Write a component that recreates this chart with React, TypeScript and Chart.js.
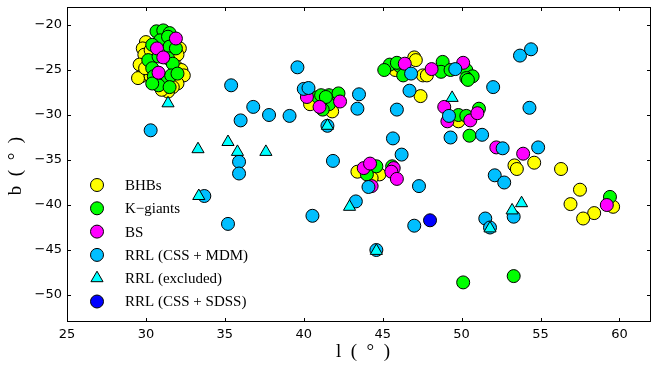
import React, { useEffect, useRef } from "react";
import { Chart, registerables } from "chart.js";

Chart.register(...registerables);

// ---- axes ----
const X_TICKS = [25, 30, 35, 40, 45, 50, 55, 60];
const Y_TICKS = [-50, -45, -40, -35, -30, -25, -20];
const X_MIN = 25;
const X_MAX = 62;
const Y_MIN = -53;
const Y_MAX = -18;
const X_TITLE = "l  (  °  )";
const Y_TITLE = "b  (  °  )";

// ---- series (l, b) ----
const BHB: [number, number][] = [
  [30.0, -21.9], [29.8, -22.6], [29.9, -23.3], [29.6, -24.4], [29.7, -25.7], [29.5, -25.9],
  [30.3, -25.7], [32.15, -22.6], [32.0, -23.3], [31.9, -24.6], [32.25, -25.0], [32.4, -25.6],
  [32.0, -26.5], [31.7, -26.9], [31.4, -27.4], [29.95, -24.8], [31.0, -27.2], [30.3, -22.8],
  [40.4, -28.8], [41.8, -29.6],
  [47.0, -23.6], [47.1, -23.9], [47.55, -25.6], [47.8, -25.6], [45.8, -25.0], [47.4, -27.9],
  [49.8, -30.7],
  [43.4, -36.3], [44.8, -36.6], [44.3, -37.0],
  [53.35, -35.6], [53.5, -36.0], [54.6, -35.3], [56.3, -36.0], [57.5, -38.3], [56.9, -39.9],
  [59.6, -40.2], [58.4, -40.9], [57.7, -41.5],
];

const KGIANTS: [number, number][] = [
  [30.67, -20.7], [31.1, -20.6], [31.5, -20.9], [30.9, -21.7], [31.4, -21.3], [30.4, -22.2],
  [31.5, -22.4], [31.9, -22.6], [30.15, -23.9], [30.8, -23.5], [31.4, -23.7], [31.7, -24.3],
  [30.4, -24.8], [30.5, -25.7], [31.2, -26.1], [31.6, -25.6], [30.8, -26.7], [30.4, -26.5],
  [31.5, -26.9], [32.0, -25.4],
  [40.9, -28.0], [41.1, -27.8], [41.6, -27.8], [42.2, -27.6], [41.6, -28.8], [41.2, -29.4], [41.4, -28.0],
  [45.45, -24.4], [45.1, -25.0], [46.1, -24.6], [46.3, -25.6], [45.9, -24.2],
  [48.8, -24.1], [48.7, -25.2], [49.3, -25.0],
  [50.3, -25.0], [50.7, -25.7], [50.3, -25.9], [50.4, -26.1],
  [49.8, -30.0], [50.3, -30.1], [51.1, -29.3],
  [44.6, -35.7], [44.0, -36.6], [45.6, -35.7], [50.5, -32.3],
  [59.4, -39.1], [53.3, -47.9], [50.1, -48.6],
];

const BS: [number, number][] = [
  [31.9, -21.5], [30.7, -22.6], [31.1, -23.6], [30.8, -25.3],
  [40.2, -28.0], [41.0, -29.1], [42.3, -28.5],
  [46.4, -24.3], [48.1, -24.9], [50.1, -24.2],
  [48.9, -29.1], [49.1, -30.7], [50.55, -30.6], [51.0, -29.8],
  [43.8, -35.9], [44.2, -35.4], [44.3, -37.9], [45.7, -35.9], [45.55, -36.3], [45.9, -37.1],
  [52.2, -33.6], [53.9, -34.3], [59.2, -40.0],
];

const RRL_MDM: [number, number][] = [
  [30.3, -31.7], [35.4, -26.7], [36.8, -29.1], [37.8, -30.0], [36.0, -30.6], [39.1, -30.1],
  [39.6, -24.7], [40.0, -27.1], [40.3, -27.0], [43.5, -27.7], [43.4, -29.3], [41.5, -31.2],
  [33.7, -39.0], [35.9, -35.2], [35.9, -36.5], [35.2, -42.1], [41.85, -35.1], [40.55, -41.2],
  [43.3, -39.6], [44.1, -38.0], [44.6, -45.0], [46.2, -34.4], [47.3, -37.9], [47.0, -42.3],
  [51.5, -41.5], [51.8, -42.5], [53.3, -41.3], [46.8, -25.4], [49.6, -24.9], [46.7, -27.3],
  [45.9, -29.4], [52.0, -26.9], [53.7, -23.4], [54.4, -22.7], [54.3, -29.2], [49.2, -30.1],
  [45.65, -32.6], [49.3, -32.5], [51.3, -32.2], [52.6, -33.7], [54.85, -33.6], [52.1, -36.7],
  [52.7, -37.5],
];

const RRL_EXCLUDED: [number, number][] = [
  [31.4, -28.7], [33.3, -33.8], [35.2, -33.0], [35.8, -34.1], [37.6, -34.1], [33.35, -39.0],
  [41.5, -31.2], [42.9, -40.2], [44.6, -45.1], [49.4, -28.1], [51.8, -42.6], [53.2, -40.6],
  [53.8, -39.8],
];

const RRL_SDSS: [number, number][] = [[48.0, -41.7]];

const SERIES = [
  { label: "BHBs", data: BHB, color: "#ffff00", style: "circle" },
  { label: "K\u2212giants", data: KGIANTS, color: "#00ff00", style: "circle" },
  { label: "BS", data: BS, color: "#ff00ff", style: "circle" },
  { label: "RRL (CSS + MDM)", data: RRL_MDM, color: "#00bfff", style: "circle" },
  { label: "RRL (excluded)", data: RRL_EXCLUDED, color: "#00ffff", style: "triangle" },
  { label: "RRL (CSS + SDSS)", data: RRL_SDSS, color: "#0000ff", style: "circle" },
];

const fmt = (v: number) => (v < 0 ? "\u2212" + Math.abs(v) : String(v));

const zeroPad = (s: any) => {
  s.paddingLeft = 0;
  s.paddingRight = 0;
  s.paddingTop = 0;
  s.paddingBottom = 0;
};

const decorPlugin = {
  id: "decor",
  afterDraw(chart: any) {
    const { ctx, chartArea: a, scales } = chart;
    ctx.save();
    ctx.strokeStyle = "#000";
    ctx.lineWidth = 1;
    // frame
    ctx.strokeRect(a.left + 0.5, a.top + 0.5, a.right - a.left - 1, a.bottom - a.top - 1);
    // inward ticks on all sides
    const TL = 4;
    ctx.beginPath();
    X_TICKS.forEach((v) => {
      const px = Math.round(scales.x.getPixelForValue(v)) + 0.5;
      ctx.moveTo(px, a.bottom);
      ctx.lineTo(px, a.bottom - TL);
      ctx.moveTo(px, a.top);
      ctx.lineTo(px, a.top + TL);
    });
    Y_TICKS.forEach((v) => {
      const py = Math.round(scales.y.getPixelForValue(v)) + 0.5;
      ctx.moveTo(a.left, py);
      ctx.lineTo(a.left + TL, py);
      ctx.moveTo(a.right, py);
      ctx.lineTo(a.right - TL, py);
    });
    ctx.stroke();

    // axis titles
    ctx.fillStyle = "#000";
    ctx.font = "19px 'Liberation Serif'";
    ctx.textAlign = "center";
    ctx.textBaseline = "middle";
    ctx.fillText(X_TITLE, 363, 352);
    ctx.save();
    ctx.translate(16, 166);
    ctx.rotate(-Math.PI / 2);
    ctx.fillText(Y_TITLE, 0, 0);
    ctx.restore();

    // legend
    const lx = 97;
    const ly0 = 185;
    const dy = 23.3;
    ctx.font = "15px 'Liberation Serif'";
    ctx.textAlign = "left";
    SERIES.forEach((s, i) => {
      const y = ly0 + i * dy;
      ctx.fillStyle = s.color;
      ctx.strokeStyle = "#000";
      ctx.lineWidth = 1;
      ctx.beginPath();
      if (s.style === "triangle") {
        const r = 7;
        ctx.moveTo(lx, y - r);
        ctx.lineTo(lx + r * 0.866, y + r * 0.5);
        ctx.lineTo(lx - r * 0.866, y + r * 0.5);
        ctx.closePath();
      } else {
        ctx.arc(lx, y, 6.5, 0, Math.PI * 2);
      }
      ctx.fill();
      ctx.stroke();
      ctx.fillStyle = "#000";
      ctx.fillText(s.label, 125, y + 1);
    });
    ctx.restore();
  },
};

export default function App() {
  const ref = useRef<HTMLCanvasElement | null>(null);
  useEffect(() => {
    if (!ref.current) return;
    const n = SERIES.length;
    const chart = new Chart(ref.current, {
      type: "scatter",
      data: {
        datasets: SERIES.map((s, i) => ({
          label: s.label,
          data: s.data.map(([x, y]) => ({ x, y })),
          pointStyle: s.style as any,
          pointRadius: s.style === "triangle" ? 7 : 6.5,
          pointHoverRadius: s.style === "triangle" ? 7 : 6.5,
          backgroundColor: s.color,
          borderColor: "#000",
          pointBorderWidth: 1,
          borderWidth: 1,
          order: n - i,
        })),
      },
      options: {
        animation: false,
        responsive: false,
        maintainAspectRatio: false,
        events: [],
        layout: { autoPadding: false, padding: { top: 7, right: 1, left: 0, bottom: 0 } },
        plugins: { legend: { display: false }, tooltip: { enabled: false } },
        scales: {
          x: {
            type: "linear",
            min: X_MIN,
            max: X_MAX,
            grid: { display: false, drawTicks: false },
            border: { display: false },
            afterBuildTicks: (s: any) => {
              s.ticks = X_TICKS.map((v) => ({ value: v }));
            },
            afterFit: (s: any) => {
              s.height = 45;
              zeroPad(s);
            },
            ticks: {
              color: "#000",
              font: { family: "'DejaVu Sans'", size: 13 },
              padding: 5,
              maxRotation: 0,
              autoSkip: false,
              callback: (v: any) => fmt(Number(v)),
            },
          },
          y: {
            type: "linear",
            min: Y_MIN,
            max: Y_MAX,
            grid: { display: false, drawTicks: false },
            border: { display: false },
            afterBuildTicks: (s: any) => {
              s.ticks = Y_TICKS.map((v) => ({ value: v }));
            },
            afterFit: (s: any) => {
              s.width = 67;
              zeroPad(s);
            },
            ticks: {
              color: "#000",
              font: { family: "'DejaVu Sans'", size: 13 },
              padding: 5,
              autoSkip: false,
              callback: (v: any) => fmt(Number(v)),
            },
          },
        },
      },
      plugins: [decorPlugin],
    });
    return () => chart.destroy();
  }, []);
  return (
    <div style={{ position: "fixed", left: 0, top: 0, width: 652, height: 367, background: "#fff" }}>
      <canvas ref={ref} width={652} height={367} style={{ width: 652, height: 367, display: "block" }} />
    </div>
  );
}
